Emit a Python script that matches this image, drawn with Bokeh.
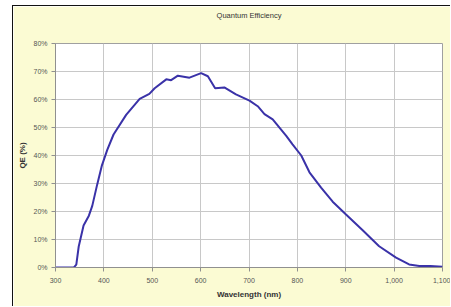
from bokeh.plotting import figure
from bokeh.models import Range1d, FixedTicker, NumeralTickFormatter, Title
from bokeh.embed import file_html
from bokeh.resources import INLINE

wavelength_nm = [300, 338, 343, 348, 358, 369, 376, 386, 396, 407, 420, 446, 474, 494, 505,
                 529, 539, 553, 577, 601, 615, 630, 649, 673, 701, 718, 732, 749, 777, 790,
                 808, 825, 849, 873, 900, 935, 969, 1004, 1031, 1052, 1075, 1100]
qe_percent = [0, 0, 1, 7.5, 15, 18.5, 22, 29.5, 36.5, 42, 47.5, 54.5, 60.2, 62, 64,
              67.2, 66.9, 68.5, 67.8, 69.4, 68.3, 64, 64.3, 61.8, 59.6, 57.6, 54.8, 52.9, 47, 44,
              40, 34, 28.5, 23.5, 19, 13.3, 7.6, 3.5, 1.1, 0.5, 0.5, 0.3]
x_ticks = [300, 400, 500, 600, 700, 800, 900, 1000, 1100]
y_ticks = [0, 10, 20, 30, 40, 50, 60, 70, 80]
title_text = "Quantum Efficiency"

qe_frac = [v / 100 for v in qe_percent]

BG = "#FBFBD3"
FONT = "Liberation Sans"

p = figure(width=438, height=301, output_backend="svg", toolbar_location=None,
           x_range=Range1d(300, 1100), y_range=Range1d(0, 0.8),
           min_border_left=42, min_border_top=37, min_border_right=8, min_border_bottom=39,
           frame_width=387, frame_height=224)
p.margin = (5, 0, 0, 12)
p.styles = {"border-top": "1px solid #111111", "border-left": "1px solid #111111"}
p.border_fill_color = BG
p.background_fill_color = "white"
p.outline_line_color = "#A0A0A0"
p.outline_line_width = 1

spacer = Title(text=" ", text_font=FONT, text_font_size="7.5px", standoff=11)
real_title = Title(text=title_text, align="center", vertical_align="top", offset=-13,
                   standoff=0, text_font=FONT, text_font_size="7.5px",
                   text_font_style="normal", text_color="#333333")
p.add_layout(spacer, "above")
p.add_layout(real_title, "above")

p.line(wavelength_nm, qe_frac, line_color="#3A32A8", line_width=2)

p.xaxis.ticker = FixedTicker(ticks=x_ticks)
p.yaxis.ticker = FixedTicker(ticks=[v / 100 for v in y_ticks])
p.xaxis.formatter = NumeralTickFormatter(format="0,0")
p.yaxis.formatter = NumeralTickFormatter(format="0%")

for ax in (p.xaxis[0], p.yaxis[0]):
    ax.axis_line_color = "#909090"
    ax.major_tick_line_color = "#909090"
    ax.minor_tick_line_color = None
    ax.major_tick_out = 4
    ax.major_tick_in = 0
    ax.major_label_text_font = FONT
    ax.major_label_text_font_size = "7px"
    ax.major_label_text_color = "#555555"
    ax.axis_label_text_font = FONT
    ax.axis_label_text_font_size = "8px"
    ax.axis_label_text_font_style = "bold"
    ax.axis_label_text_color = "#333333"

p.xaxis.axis_label = "Wavelength (nm)"
p.yaxis.axis_label = "QE (%)"
p.xaxis.major_label_standoff = 6
p.xaxis.axis_label_standoff = 4
p.yaxis.major_label_standoff = 4
p.yaxis.axis_label_standoff = 3

p.xgrid.grid_line_color = "#C8C8C8"
p.ygrid.grid_line_color = "#C8C8C8"
p.xgrid.ticker = FixedTicker(ticks=x_ticks)
p.ygrid.ticker = FixedTicker(ticks=[v / 100 for v in y_ticks])

open("out.html", "w").write(file_html(p, INLINE))
